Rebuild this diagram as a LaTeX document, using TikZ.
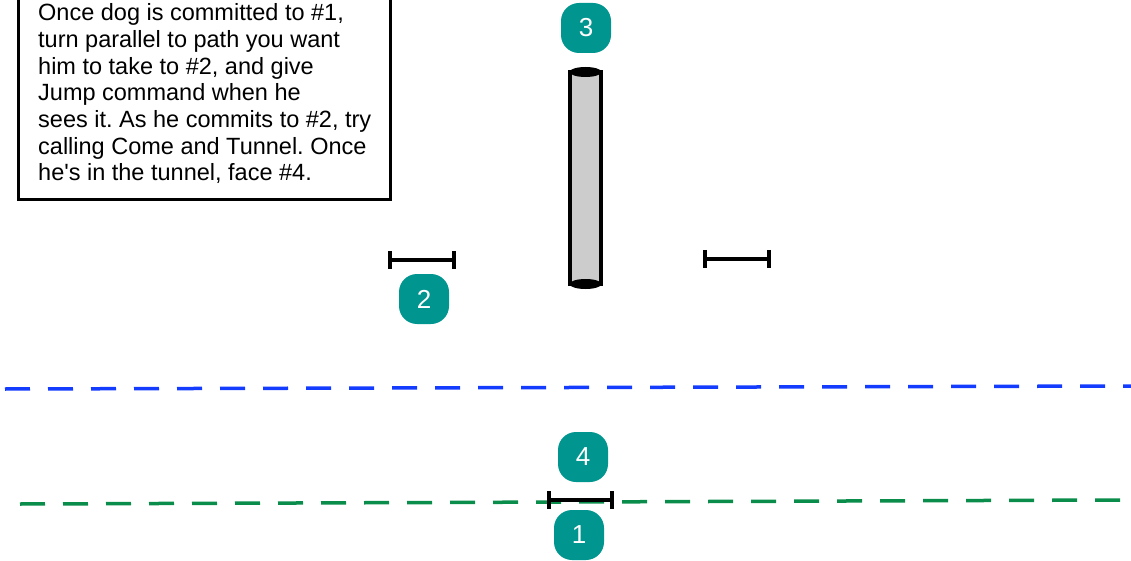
\documentclass[tikz,border=0pt]{standalone}
\usepackage{fontspec}
\setmainfont{Liberation Sans}[Ligatures=TeXOff]
\frenchspacing
\definecolor{badge}{RGB}{0,150,143}
\definecolor{bluedash}{RGB}{20,60,255}
\definecolor{greendash}{RGB}{10,140,75}
\definecolor{tunnelgray}{RGB}{204,204,204}
\begin{document}
\begin{tikzpicture}[x=1pt,y=-1pt,
  badgenode/.style={fill=badge,rounded corners=18pt,minimum width=50pt,minimum height=50pt,inner sep=0pt,text=white,font=\fontsize{26}{28}\selectfont},
  jumpbar/.style={line width=3.5pt,black},
  dashline/.style={line width=3.5pt,dash pattern=on 25pt off 18pt},
  notebox/.style={draw,line width=3pt,fill=white}
]
\useasboundingbox (0,0) rectangle (1131,561);
% note box
\draw[notebox] (18,-10) rectangle (390,200);
\node[anchor=north west,inner sep=0pt,align=left,font=\fontsize{23.5}{26.7}\selectfont] (note) at (38,3.5)
 {Once dog is committed to \#1,\\turn parallel to path you want\\him to take to \#2, and give\\Jump command when he\\sees it. As he commits to \#2, try\\calling Come and Tunnel. Once\\he's in the tunnel, face \#4.};
% tunnel
\draw[line width=3.5pt,fill=tunnelgray] (570,72) rectangle (601,284);
\fill[black] (585.5,72) ellipse (16pt and 5pt);
\fill[black] (585.5,284) ellipse (16pt and 5pt);
% badges
\node[badgenode] (b3) at (586,28) {3};
\node[badgenode] (b2) at (424,299) {2};
\node[badgenode] (b4) at (583,457) {4};
\node[badgenode] (b1) at (579,535) {1};
% dashed lines
\coordinate (bl) at (5,389);
\coordinate (br) at (1131,386);
\coordinate (gl) at (20,504);
\coordinate (gr) at (1120,500);
\draw[dashline,bluedash] (bl) -- (br);
\draw[dashline,greendash] (gl) -- (gr);
% jumps
\coordinate (j2a) at (390,260); \coordinate (j2b) at (454,260);
\draw[jumpbar] (j2a) -- (j2b);
\draw[jumpbar] (390,251) -- (390,269);
\draw[jumpbar] (454,251) -- (454,269);
\coordinate (jra) at (705,259); \coordinate (jrb) at (769,259);
\draw[jumpbar] (jra) -- (jrb);
\draw[jumpbar] (705,250) -- (705,268);
\draw[jumpbar] (769,250) -- (769,268);
\coordinate (j1a) at (549,500); \coordinate (j1b) at (612,500);
\draw[jumpbar] (j1a) -- (j1b);
\draw[jumpbar] (549,491) -- (549,509);
\draw[jumpbar] (612,491) -- (612,509);
\end{tikzpicture}
\end{document}
